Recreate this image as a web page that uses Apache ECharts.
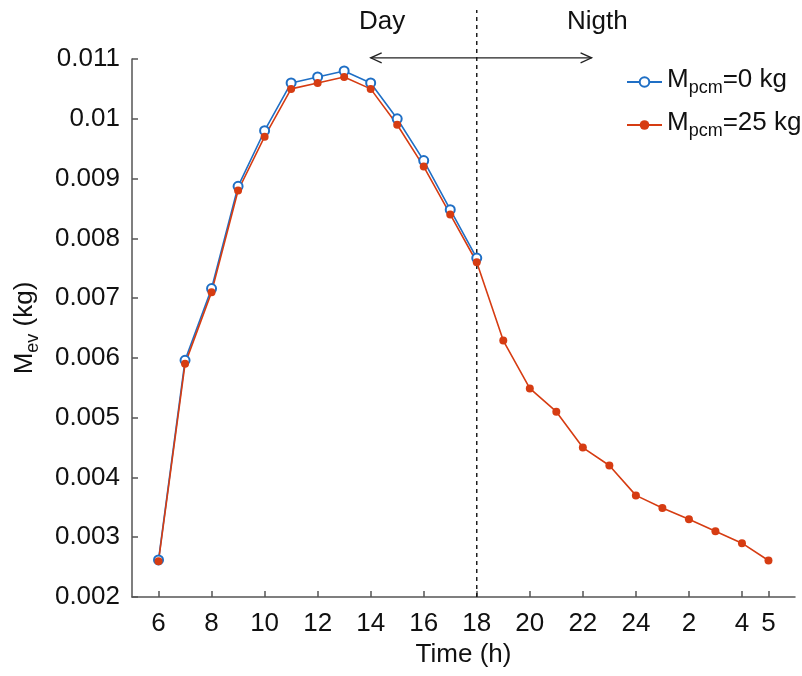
<!DOCTYPE html>
<html>
<head>
<meta charset="utf-8">
<script src="https://cdn.jsdelivr.net/npm/echarts@6/dist/echarts.min.js"></script>
<style>html,body{margin:0;padding:0;background:#fff}#c{width:802px;height:676px}</style>
</head>
<body>
<div id="c"></div>
<script>
// Hours (6..29, where 25..29 mean 1..5 of next day)
var hoursDay = [6,7,8,9,10,11,12,13,14,15,16,17,18];
var hoursAll = [6,7,8,9,10,11,12,13,14,15,16,17,18,19,20,21,22,23,24,25,26,27,28,29];
var mev0 = [0.00262,0.00596,0.00716,0.00887,0.0098,0.0106,0.0107,0.0108,0.0106,0.0100,0.0093,0.00848,0.00767];
var mev25 = [0.0026,0.0059,0.0071,0.0088,0.0097,0.0105,0.0106,0.0107,0.0105,0.0099,0.0092,0.0084,0.0076,0.00629,0.00549,0.0051,0.0045,0.0042,0.0037,0.00349,0.0033,0.0031,0.0029,0.00261];
var xTicks = [6,8,10,12,14,16,18,20,22,24,26,28,29];
var dividerHour = 18;
var arrowFrom = 14, arrowTo = 22.33, arrowY = 0.01102;

var FONT = 'Liberation Sans, Arial, sans-serif';
var subRich = {
  m: {fontSize: 26, fontFamily: FONT, color: '#111', lineHeight: 30, verticalAlign: 'top'},
  s: {fontSize: 18, fontFamily: FONT, color: '#111', lineHeight: 18, padding: [24,0,0,0], verticalAlign: 'bottom'}
};

var chart = echarts.init(document.getElementById('c'));
chart.setOption({
  animation: false,
  grid: {left: 132, right: 7, top: 59, bottom: 79, outerBoundsMode: 'none', containLabel: false},
  xAxis: {
    type: 'value', min: 5, max: 30,
    name: 'Time (h)', nameLocation: 'middle', nameGap: 41,
    nameTextStyle: {fontSize: 26, fontFamily: FONT, color: '#111'},
    axisLine: {show: true, lineStyle: {color: '#555', width: 1.5}},
    axisTick: {show: true, inside: true, length: 6, customValues: xTicks, lineStyle: {color: '#555', width: 1.5}},
    axisLabel: {customValues: xTicks, fontSize: 26, fontFamily: FONT, color: '#111', margin: 14,
      formatter: function (v) { return v <= 24 ? String(v) : String(v - 24); }},
    splitLine: {show: false}
  },
  yAxis: {
    type: 'value', min: 0.002, max: 0.011, interval: 0.001,
    name: '{m|M}{s|ev}{m| (kg)}', nameLocation: 'middle', nameGap: 90, nameRotate: 90,
    nameTextStyle: {rich: subRich},
    axisLine: {show: true, lineStyle: {color: '#555', width: 1.5}},
    axisTick: {show: true, inside: true, length: 6, lineStyle: {color: '#555', width: 1.5}},
    axisLabel: {fontSize: 26, fontFamily: FONT, color: '#111', margin: 12,
      formatter: function (v) { return String(parseFloat(v.toFixed(4))); }},
    splitLine: {show: false}
  },
  legend: {
    orient: 'vertical', left: 626, top: 55, padding: 0, itemWidth: 35, itemHeight: 12, itemGap: 1,
    data: ['M0', 'M25'],
    formatter: function (n) { return n === 'M0' ? '{m|M}{s|pcm}{m|=0 kg}' : '{m|M}{s|pcm}{m|=25 kg}'; },
    textStyle: {rich: subRich}
  },
  series: [
    {
      name: 'M0', type: 'line', data: hoursDay.map(function (h, i) { return [h, mev0[i]]; }),
      symbol: 'emptyCircle', symbolSize: 9, color: '#1f6fc5',
      lineStyle: {width: 1.6, color: '#1f6fc5'},
      itemStyle: {color: '#1f6fc5', borderColor: '#1f6fc5', borderWidth: 1.5}
    },
    {
      name: 'M25', type: 'line', data: hoursAll.map(function (h, i) { return [h, mev25[i]]; }),
      symbol: 'circle', symbolSize: 8, color: '#d63c12',
      lineStyle: {width: 1.6, color: '#d63c12'},
      itemStyle: {color: '#d63c12'}
    },
    {
      name: 'divider', type: 'line', clip: false, silent: true, symbol: 'none',
      data: [[dividerHour, 0.002], [dividerHour, 0.01182]],
      lineStyle: {color: '#111', width: 1.4, type: [4, 4]}
    }
  ]
});

var p1 = chart.convertToPixel({gridIndex: 0}, [arrowFrom, arrowY]);
var p2 = chart.convertToPixel({gridIndex: 0}, [arrowTo, arrowY]);
var ah = 11, aw = 5;
chart.setOption({
  graphic: [
    {type: 'text', left: 359, top: 9, style: {text: 'Day', fontSize: 26, fontFamily: FONT, fill: '#111'}},
    {type: 'text', left: 567, top: 9, style: {text: 'Nigth', fontSize: 26, fontFamily: FONT, fill: '#111'}},
    {type: 'line', shape: {x1: p1[0], y1: p1[1], x2: p2[0], y2: p2[1]}, style: {stroke: '#222', lineWidth: 1.3}},
    {type: 'polyline', shape: {points: [[p1[0] + ah, p1[1] - aw], [p1[0], p1[1]], [p1[0] + ah, p1[1] + aw]]}, style: {stroke: '#222', lineWidth: 1.3, fill: null}},
    {type: 'polyline', shape: {points: [[p2[0] - ah, p2[1] - aw], [p2[0], p2[1]], [p2[0] - ah, p2[1] + aw]]}, style: {stroke: '#222', lineWidth: 1.3, fill: null}}
  ]
});
</script>
</body>
</html>
